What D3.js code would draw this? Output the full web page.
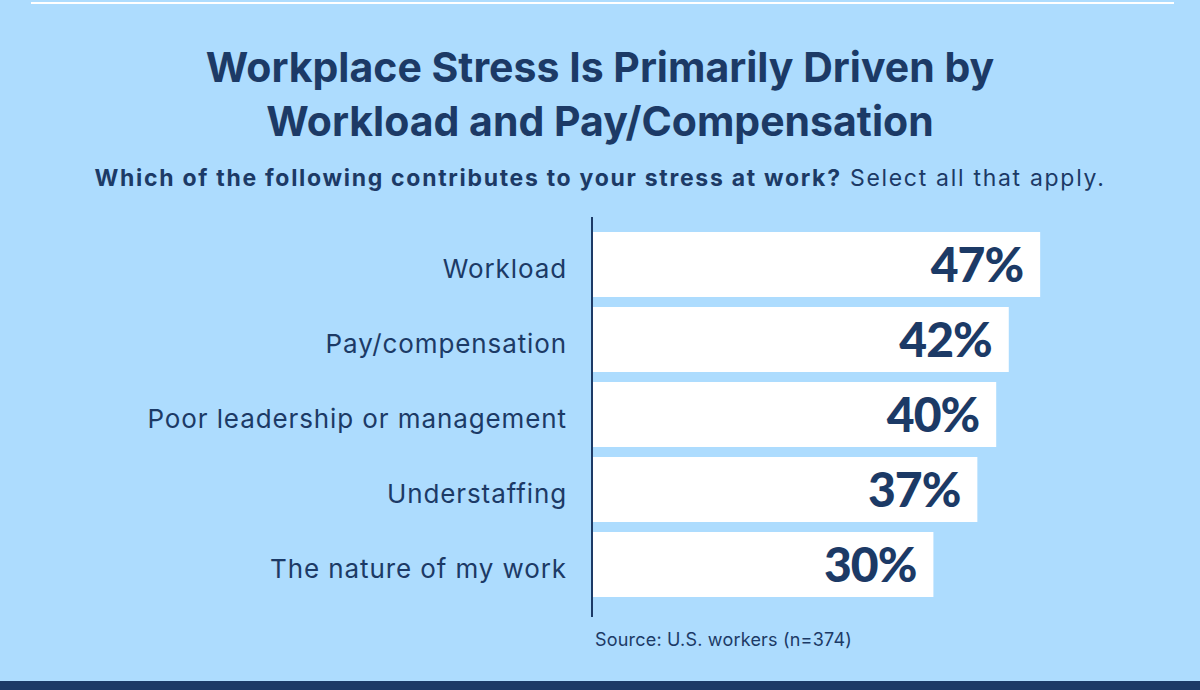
<!DOCTYPE html>
<html>
<head>
<meta charset="utf-8">
<script src="https://cdn.jsdelivr.net/npm/d3@7"></script>
<style>
  html, body { margin: 0; padding: 0; background: #addcfe; }
  svg { display: block; }
</style>
</head>
<body>
<div id="chart"></div>
<script>
const categories = ["Workload", "Pay/compensation", "Poor leadership or management", "Understaffing", "The nature of my work"];
const values = [47, 42, 40, 37, 30];
const titleLines = ["Workplace Stress Is Primarily Driven by", "Workload and Pay/Compensation"];
const subtitleBold = "Which of the following contributes to your stress at work?";
const subtitleRest = " Select all that apply.";
const sourceText = "Source: U.S. workers (n=374)";

const width = 1200, height = 690;
const navy = "#1c3a66";
const bg = "#addcfe";
const fontFamily = "Inter, 'Open Sans', sans-serif";

const data = categories.map((c, i) => ({ category: c, value: values[i] }));

const svg = d3.select("#chart").append("svg")
    .attr("width", width)
    .attr("height", height)
    .style("font-family", fontFamily);

svg.append("rect").attr("width", width).attr("height", height).attr("fill", bg);

// thin white rule at the top, navy band at the bottom
svg.append("rect").attr("x", 31).attr("y", 2).attr("width", 1143).attr("height", 2).attr("fill", "#fff");
svg.append("rect").attr("x", 0).attr("y", 681).attr("width", width).attr("height", 9).attr("fill", navy);

svg.append("g")
    .selectAll("text")
    .data(titleLines)
    .join("text")
    .attr("x", width / 2)
    .attr("y", (d, i) => 82 + i * 54)
    .attr("text-anchor", "middle")
    .attr("fill", navy)
    .style("font-size", "41px")
    .style("font-weight", 700)
    .text(d => d);

const sub = svg.append("text")
    .attr("x", width / 2)
    .attr("y", 186)
    .attr("text-anchor", "middle")
    .attr("fill", navy)
    .style("font-size", "23px")
    .style("letter-spacing", "1.7px");
sub.append("tspan").style("font-weight", 700).text(subtitleBold);
sub.append("tspan").style("font-weight", 400).text(subtitleRest);

const y = d3.scaleBand()
    .domain(categories)
    .range([232, 597])
    .paddingInner(10 / 75)
    .paddingOuter(0);

const x = d3.scaleLinear()
    .domain([0, 50])
    .range([745, 1059]);

const x0 = 593;

svg.append("g")
    .selectAll("rect")
    .data(data)
    .join("rect")
    .attr("x", x0)
    .attr("y", d => y(d.category))
    .attr("width", d => x(d.value) - x0)
    .attr("height", y.bandwidth())
    .attr("fill", "#fff");

svg.append("line")
    .attr("x1", 592).attr("x2", 592)
    .attr("y1", 217).attr("y2", 617)
    .attr("stroke", navy)
    .attr("stroke-width", 2);

svg.append("g")
    .selectAll("text")
    .data(data)
    .join("text")
    .attr("x", d => x(d.value) - 17)
    .attr("y", d => y(d.category) + y.bandwidth() / 2 + 17.5)
    .attr("text-anchor", "end")
    .attr("fill", navy)
    .style("font-family", "Lato, Inter, sans-serif")
    .style("font-size", "48px")
    .style("font-weight", 900)
    .style("letter-spacing", "-1px")
    .text(d => d.value + "%");

svg.append("g")
    .selectAll("text")
    .data(data)
    .join("text")
    .attr("x", 567)
    .attr("y", d => y(d.category) + y.bandwidth() / 2 + 13)
    .attr("text-anchor", "end")
    .attr("fill", navy)
    .style("font-size", "26px")
    .style("letter-spacing", "0.9px")
    .text(d => d.category);

svg.append("text")
    .attr("x", 595)
    .attr("y", 646)
    .attr("fill", navy)
    .style("font-size", "18px")
    .style("letter-spacing", "0.2px")
    .text(sourceText);
</script>
</body>
</html>
